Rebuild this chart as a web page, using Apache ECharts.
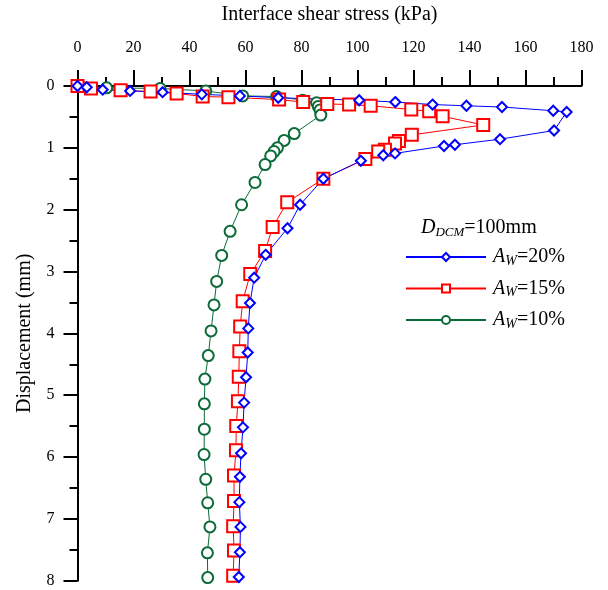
<!DOCTYPE html>
<html>
<head>
<meta charset="utf-8">
<script src="https://cdn.jsdelivr.net/npm/echarts@6/dist/echarts.min.js"></script>
<style>
  html, body { margin: 0; padding: 0; background: #fff; }
  #chart { width: 608px; height: 590px; }
</style>
</head>
<body>
<div id="chart"></div>
<script>
// AW = 20 %
const blueStress = [0, 3.3, 9, 18.8, 30.4, 44.4, 58, 71.7, 100.6, 113.5, 126.8, 138.9, 151.6, 169.9, 174.7, 170.2, 150.9, 134.8, 130.9, 113.4, 109.2, 101.2, 87.8, 79.5, 75, 67.2, 63.1, 61.6, 61, 60.8, 60.2, 59.5, 59.1, 58.4, 58, 57.8, 58.2, 58, 57.6];
const blueDisp = [0, 0.02, 0.06, 0.08, 0.1, 0.135, 0.16, 0.19, 0.23, 0.26, 0.3, 0.32, 0.34, 0.4, 0.42, 0.72, 0.86, 0.95, 0.97, 1.09, 1.12, 1.21, 1.5, 1.92, 2.3, 2.73, 3.1, 3.51, 3.92, 4.31, 4.71, 5.12, 5.52, 5.94, 6.32, 6.73, 7.13, 7.54, 7.94];

// AW = 15 %
const redStress = [0, 4.8, 15.4, 26.1, 35.4, 44.7, 53.9, 72, 80.6, 89.2, 97, 104.7, 119.2, 125.6, 130.4, 144.9, 119.4, 114.8, 113.4, 109.8, 107.4, 102.8, 87.8, 74.9, 69.7, 67, 61.7, 59, 58.1, 57.8, 57.6, 57.3, 56.7, 56.6, 55.9, 55.9, 55.6, 55.9, 55.6];
const redDisp = [0, 0.04, 0.07, 0.09, 0.12, 0.17, 0.18, 0.22, 0.26, 0.29, 0.3, 0.32, 0.38, 0.41, 0.49, 0.63, 0.79, 0.89, 0.93, 1.03, 1.06, 1.18, 1.5, 1.88, 2.28, 2.67, 3.04, 3.48, 3.89, 4.29, 4.7, 5.1, 5.5, 5.89, 6.3, 6.71, 7.12, 7.51, 7.92];

// AW = 10 %
const greenStress = [0, 10.4, 29.5, 45.8, 59, 71.1, 80.4, 85.4, 86, 86.6, 86.9, 77.4, 73.8, 71.4, 70.2, 69, 67, 63.4, 58.6, 54.5, 51.5, 49.7, 48.75, 47.7, 46.7, 45.5, 45.3, 45.3, 45.2, 45.8, 46.5, 47.3, 46.4, 46.5];
const greenDisp = [0, 0.03, 0.04, 0.08, 0.16, 0.17, 0.23, 0.27, 0.33, 0.39, 0.47, 0.77, 0.88, 1.0, 1.06, 1.13, 1.27, 1.56, 1.92, 2.35, 2.74, 3.16, 3.54, 3.96, 4.36, 4.74, 5.14, 5.55, 5.96, 6.36, 6.74, 7.13, 7.55, 7.95];

const seriesNames = ["AW=20%", "AW=15%", "AW=10%"];
const legendLabels = ["20%", "15%", "10%"];

const zip = (xs, ys) => xs.map((x, i) => [x, ys[i]]);
const font = "Liberation Serif, Times New Roman, serif";

const chart = echarts.init(document.getElementById("chart"));

const mkSeries = (name, data, color, symbol, size) => ({
  name: name,
  type: "line",
  data: data,
  symbol: symbol,
  symbolSize: size,
  showAllSymbol: true,
  lineStyle: { color: color, width: 1 },
  itemStyle: { color: color, borderColor: color, borderWidth: 1.6 },
  emphasis: { disabled: true },
  animation: false
});

chart.setOption({
  animation: false,
  grid: { left: 77.5, top: 82.3, right: 26.5, bottom: 9.3 },
  xAxis: {
    type: "value",
    position: "top",
    min: 0, max: 180, interval: 20,
    name: "Interface shear stress (kPa)",
    nameLocation: "middle",
    nameGap: 61,
    nameTextStyle: { fontFamily: font, fontSize: 20, color: "#000" },
    axisLine: { show: true, lineStyle: { color: "#000", width: 2 } },
    axisTick: { show: true, inside: false, length: 16, lineStyle: { color: "#000", width: 2 } },
    minorTick: { show: true, splitNumber: 2, length: 9, lineStyle: { color: "#000", width: 2 } },
    axisLabel: { fontFamily: font, fontSize: 16, color: "#000", margin: 30 },
    splitLine: { show: false }
  },
  yAxis: {
    type: "value",
    inverse: true,
    min: 0, max: 8, interval: 1,
    name: "Displacement (mm)",
    nameLocation: "middle",
    nameGap: 43,
    nameRotate: 90,
    nameTextStyle: { fontFamily: font, fontSize: 20, color: "#000" },
    axisLine: { show: true, lineStyle: { color: "#000", width: 2 } },
    axisTick: { show: true, inside: false, length: 14, lineStyle: { color: "#000", width: 2 } },
    minorTick: { show: true, splitNumber: 2, length: 8, lineStyle: { color: "#000", width: 2 } },
    axisLabel: { fontFamily: font, fontSize: 16, color: "#000", margin: 23 },
    splitLine: { show: false }
  },
  legend: {
    orient: "vertical",
    left: 400,
    top: 242,
    itemWidth: 80,
    itemHeight: 10,
    itemGap: 10.5,
    data: seriesNames,
    selectedMode: false,
    formatter: (name) => "{a|A}{w|W}{n|=" + legendLabels[seriesNames.indexOf(name)] + "}",
    textStyle: {
      fontFamily: font,
      color: "#000",
      lineHeight: 20,
      rich: {
        a: { fontFamily: font, fontSize: 20, fontStyle: "italic", color: "#000", padding: [0, 0, 0, 2] },
        w: { fontFamily: font, fontSize: 14, fontStyle: "italic", color: "#000", padding: [8, 0, 0, 0] },
        n: { fontFamily: font, fontSize: 20, color: "#000" }
      }
    }
  },
  graphic: [
    {
      type: "text",
      left: 421,
      top: 218,
      style: {
        text: "{d|D}{s|DCM}{n|=100mm}",
        rich: {
          d: { fontFamily: font, fontSize: 20, fontStyle: "italic", fill: "#000" },
          s: { fontFamily: font, fontSize: 13, fontStyle: "italic", fill: "#000", padding: [9, 0, 0, 0] },
          n: { fontFamily: font, fontSize: 20, fill: "#000" }
        }
      }
    }
  ],
  series: [
    mkSeries(seriesNames[2], zip(greenStress, greenDisp), "#0b6b38", "emptyCircle", 11),
    mkSeries(seriesNames[1], zip(redStress, redDisp), "#ff0000", "emptyRect", 12),
    mkSeries(seriesNames[0], zip(blueStress, blueDisp), "#0000ff", "emptyDiamond", 10)
  ]
});
</script>
</body>
</html>
